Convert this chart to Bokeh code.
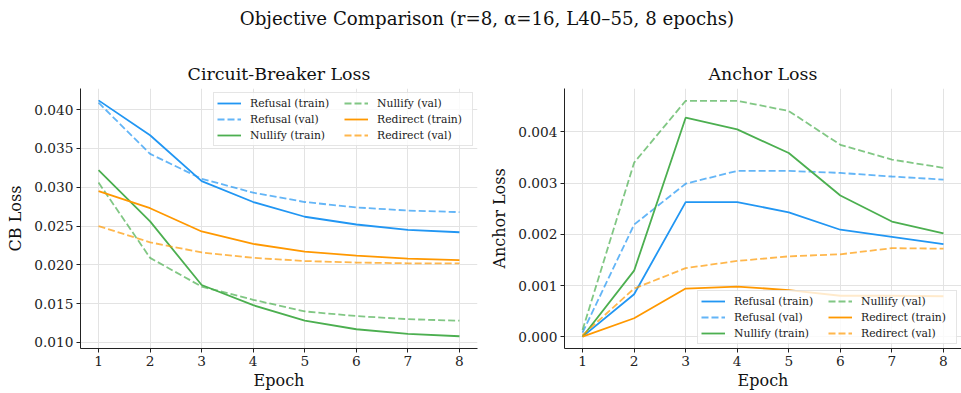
from bokeh.plotting import figure
from bokeh.layouts import column, row
from bokeh.models import FixedTicker, PrintfTickFormatter, Range1d, Legend, LegendItem
from bokeh.embed import file_html
from bokeh.resources import INLINE

epochs = [1, 2, 3, 4, 5, 6, 7, 8]

cb_refusal_train = [0.0412, 0.0367, 0.0308, 0.0281, 0.0262, 0.0252, 0.0245, 0.0242]
cb_refusal_val = [0.0409, 0.0343, 0.0311, 0.0293, 0.0281, 0.0274, 0.0270, 0.0268]
cb_nullify_train = [0.0322, 0.0256, 0.0174, 0.0148, 0.0128, 0.0117, 0.0111, 0.0108]
cb_nullify_val = [0.0306, 0.0209, 0.0172, 0.0155, 0.0140, 0.0134, 0.0130, 0.0128]
cb_redirect_train = [0.0295, 0.0273, 0.0243, 0.0227, 0.0217, 0.0212, 0.0208, 0.0206]
cb_redirect_val = [0.0250, 0.0229, 0.0216, 0.0209, 0.0205, 0.0203, 0.0202, 0.0202]

an_refusal_train = [0.0, 0.00083, 0.00263, 0.00263, 0.00243, 0.00209, 0.00195, 0.00181]
an_refusal_val = [0.00008, 0.00219, 0.00299, 0.00324, 0.00324, 0.00320, 0.00313, 0.00307]
an_nullify_train = [0.0, 0.00129, 0.00428, 0.00405, 0.00359, 0.00276, 0.00225, 0.00202]
an_nullify_val = [0.00013, 0.00340, 0.00461, 0.00461, 0.00441, 0.00375, 0.00346, 0.00330]
an_redirect_train = [0.0, 0.00036, 0.00094, 0.00098, 0.00091, 0.00080, 0.00080, 0.00079]
an_redirect_val = [0.00003, 0.00094, 0.00134, 0.00148, 0.00157, 0.00161, 0.00173, 0.00172]

cb_ticks = [0.010, 0.015, 0.020, 0.025, 0.030, 0.035, 0.040]
an_ticks = [0.000, 0.001, 0.002, 0.003, 0.004]

BLUE = "#2196F3"
GREEN = "#4CAF50"
ORANGE = "#FF9800"
FONT = "DejaVu Serif"

def style(p, ylabel, yticks):
    p.title.text_font = FONT
    p.title.text_font_size = "17.4px"
    p.title.text_font_style = "normal"
    p.title.align = "center"
    p.title.text_color = "#111111"
    p.outline_line_color = None
    for ax in (p.xaxis, p.yaxis):
        ax.axis_line_color = "#222222"
        ax.axis_line_width = 1
        ax.major_tick_line_color = "#222222"
        ax.major_tick_out = 4
        ax.major_tick_in = 0
        ax.minor_tick_line_color = None
        ax.major_label_text_font = FONT
        ax.major_label_text_font_size = "13.7px"
        ax.major_label_text_color = "#222222"
        ax.major_label_standoff = 3
        ax.axis_label_text_font = FONT
        ax.axis_label_text_font_size = "16px"
        ax.axis_label_text_font_style = "normal"
        ax.axis_label_text_color = "#111111"
    p.xaxis.axis_label = "Epoch"
    p.yaxis.axis_label = ylabel
    p.xaxis.ticker = FixedTicker(ticks=epochs)
    p.yaxis.ticker = FixedTicker(ticks=yticks)
    p.yaxis.formatter = PrintfTickFormatter(format="%.3f")
    p.xaxis.axis_label_standoff = 2
    p.yaxis.axis_label_standoff = 6
    p.grid.grid_line_color = "#e3e3e3"
    p.grid.grid_line_width = 1

def add_lines(p, series, loc):
    names = ["Refusal (train)", "Refusal (val)", "Nullify (train)",
             "Nullify (val)", "Redirect (train)", "Redirect (val)"]
    colors = [BLUE, BLUE, GREEN, GREEN, ORANGE, ORANGE]
    items = []
    for name, col, ys in zip(names, colors, series):
        if "val" in name:
            r = p.line(epochs, ys, line_color=col, line_width=1.8, line_alpha=0.7, line_dash="7 3")
        else:
            r = p.line(epochs, ys, line_color=col, line_width=1.8)
        items.append(LegendItem(label=name, renderers=[r]))
    leg = Legend(items=items, location=loc, ncols=2)
    leg.label_text_font = FONT
    leg.label_text_font_size = "10.8px"
    leg.label_text_color = "#222222"
    leg.label_height = 14
    leg.glyph_height = 14
    leg.glyph_width = 24
    leg.label_standoff = 9
    leg.label_width = 92
    leg.spacing = 2
    leg.padding = 3
    leg.margin = 4
    leg.border_line_color = "#cccccc"
    leg.border_line_width = 1
    leg.background_fill_alpha = 0.8
    p.add_layout(leg)

FW = 397
FH = 260
p1 = figure(frame_width=FW, frame_height=FH, title="Circuit-Breaker Loss", toolbar_location=None,
            output_backend="svg", x_range=Range1d(0.65, 8.35), y_range=Range1d(0.00922, 0.04273),
            min_border_left=80, min_border_right=4, min_border_top=48, min_border_bottom=45)
style(p1, "CB Loss", cb_ticks)
add_lines(p1, [cb_refusal_train, cb_refusal_val, cb_nullify_train, cb_nullify_val,
               cb_redirect_train, cb_redirect_val], "top_right")

p2 = figure(frame_width=FW, frame_height=FH, title="Anchor Loss", toolbar_location=None,
            output_backend="svg", x_range=Range1d(0.65, 8.35), y_range=Range1d(-0.000231, 0.00485),
            min_border_left=83, min_border_right=0, min_border_top=48, min_border_bottom=45)
style(p2, "Anchor Loss", an_ticks)
add_lines(p2, [an_refusal_train, an_refusal_val, an_nullify_train, an_nullify_val,
               an_redirect_train, an_redirect_val], "bottom_right")

p0 = figure(width=961, height=40, title="Objective Comparison (r=8, \u03b1=16, L40\u201355, 8 epochs)",
            toolbar_location=None, output_backend="svg", min_border=0, min_border_left=12)
p0.title.text_font = FONT
p0.title.text_font_size = "18.2px"
p0.title.text_font_style = "normal"
p0.title.align = "center"
p0.title.text_color = "#111111"
p0.axis.visible = False
p0.grid.visible = False
p0.outline_line_color = None

layout = column(p0, row(p1, p2))
open("out.html", "w").write(file_html(layout, INLINE))
